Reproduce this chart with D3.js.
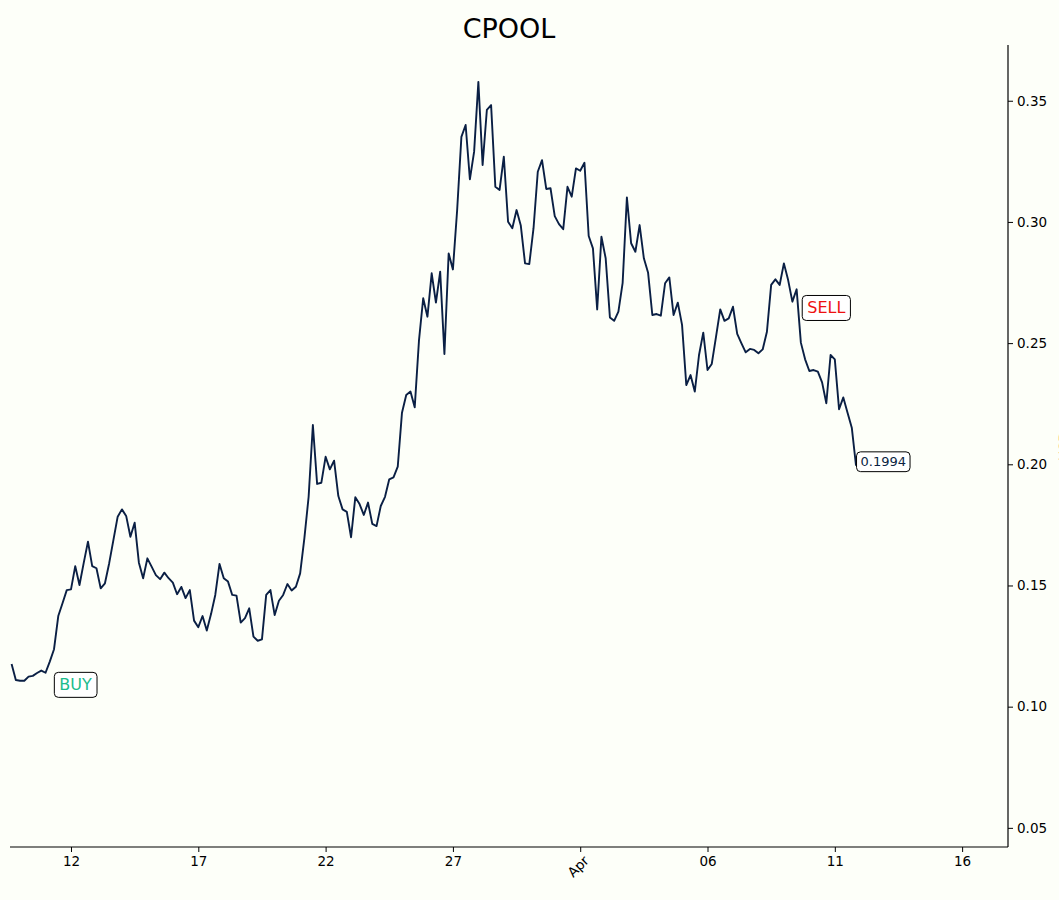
<!DOCTYPE html>
<html>
<head>
<meta charset="utf-8">
<script src="https://cdn.jsdelivr.net/npm/d3@7"></script>
<style>
  html, body { margin: 0; padding: 0; background: #fdfff9; }
  svg { display: block; font-family: "DejaVu Sans", sans-serif; }
</style>
</head>
<body>
<div id="chart"></div>
<script>
// ---- data ----
const title = "CPOOL";
const yLabel = "USD";
const startTime = "2024-03-09T16:00:00Z"; // first sample, 4-hour candles
const stepHours = 4;
const prices = [
  0.1176, 0.1110, 0.1107, 0.1107, 0.1124, 0.1127, 0.1139, 0.1149, 0.1140, 0.1186,
  0.1237, 0.1374, 0.1427, 0.1481, 0.1484, 0.1580, 0.1502, 0.1593, 0.1681, 0.1580,
  0.1571, 0.1488, 0.1509, 0.1592, 0.1688, 0.1784, 0.1814, 0.1787, 0.1701, 0.1759,
  0.1594, 0.1530, 0.1612, 0.1578, 0.1543, 0.1526, 0.1553, 0.1530, 0.1512, 0.1464,
  0.1494, 0.1448, 0.1481, 0.1355, 0.1328, 0.1374, 0.1314, 0.1382, 0.1461, 0.1589,
  0.1530, 0.1516, 0.1461, 0.1458, 0.1347, 0.1365, 0.1406, 0.1289, 0.1272, 0.1278,
  0.1461, 0.1481, 0.1378, 0.1437, 0.1461, 0.1506, 0.1479, 0.1495, 0.1550, 0.1695,
  0.1866, 0.2162, 0.1919, 0.1924, 0.2031, 0.1979, 0.2015, 0.1869, 0.1814, 0.1804,
  0.1699, 0.1864, 0.1836, 0.1791, 0.1842, 0.1754, 0.1745, 0.1828, 0.1866, 0.1938,
  0.1946, 0.1990, 0.2213, 0.2286, 0.2300, 0.2235, 0.2510, 0.2685, 0.2609, 0.2788,
  0.2667, 0.2795, 0.2455, 0.2870, 0.2804, 0.3049, 0.3351, 0.3400, 0.3176, 0.3290,
  0.3578, 0.3235, 0.3462, 0.3482, 0.3145, 0.3132, 0.3269, 0.3001, 0.2974, 0.3049,
  0.2985, 0.2829, 0.2826, 0.2974, 0.3207, 0.3255, 0.3136, 0.3139, 0.3024, 0.2991,
  0.2970, 0.3145, 0.3104, 0.3221, 0.3211, 0.3244, 0.2942, 0.2891, 0.2639, 0.2939,
  0.2850, 0.2606, 0.2592, 0.2630, 0.2749, 0.3101, 0.2912, 0.2877, 0.2987, 0.2850,
  0.2790, 0.2616, 0.2620, 0.2613, 0.2747, 0.2771, 0.2616, 0.2667, 0.2575, 0.2327,
  0.2368, 0.2300, 0.2451, 0.2543, 0.2389, 0.2414, 0.2526, 0.2639, 0.2592, 0.2602,
  0.2650, 0.2538, 0.2499, 0.2462, 0.2476, 0.2472, 0.2458, 0.2474, 0.2547, 0.2740,
  0.2763, 0.2740, 0.2829, 0.2760, 0.2671, 0.2722, 0.2502, 0.2433, 0.2385, 0.2389,
  0.2382, 0.2338, 0.2252, 0.2451, 0.2433, 0.2227, 0.2276, 0.2213, 0.2151, 0.1994
];
const xTickDates = ["2024-03-12", "2024-03-17", "2024-03-22", "2024-03-27", "2024-04-01", "2024-04-06", "2024-04-11", "2024-04-16"];
const xTickLabels = ["12", "17", "22", "27", "Apr", "06", "11", "16"];
const yTicks = [0.05, 0.10, 0.15, 0.20, 0.25, 0.30, 0.35];
const buySignal = { date: "2024-03-11T13:00:00Z", price: 0.1090, label: "BUY" };
const sellSignal = { date: "2024-04-09T22:00:00Z", price: 0.2645, label: "SELL" };

// ---- layout ----
const W = 1059, H = 900;
const plot = { left: 10, right: 1008, top: 45, bottom: 847 };
const xDomain = [new Date("2024-03-09T14:30:00Z"), new Date("2024-04-17T19:15:00Z")];
const yDomain = [0.0421, 0.373];

const t0 = new Date(startTime).getTime();
const series = prices.map((p, i) => ({ date: new Date(t0 + i * stepHours * 3600e3), price: p }));

const x = d3.scaleUtc().domain(xDomain).range([plot.left, plot.right]);
const y = d3.scaleLinear().domain(yDomain).range([plot.bottom, plot.top]);

const svg = d3.select("#chart").append("svg").attr("width", W).attr("height", H);
svg.append("rect").attr("width", W).attr("height", H).attr("fill", "#fdfff9");

// title
svg.append("text").attr("x", (plot.left + plot.right) / 2).attr("y", 38)
  .attr("text-anchor", "middle").attr("font-size", 27).attr("fill", "#000").text(title);

// x axis
const xAxis = d3.axisBottom(x)
  .tickValues(xTickDates.map(d => new Date(d + "T00:00:00Z")))
  .tickFormat((d, i) => xTickLabels[i])
  .tickSizeOuter(0).tickSize(5).tickPadding(4);
const gx = svg.append("g").attr("transform", `translate(0,${plot.bottom})`).call(xAxis);
gx.select(".domain").remove();
gx.selectAll(".tick line").attr("stroke", "#000");
gx.selectAll(".tick text").attr("font-size", 13.5).attr("fill", "#000").attr("font-family", "DejaVu Sans");
gx.selectAll(".tick text").filter((d, i) => xTickLabels[i] === "Apr")
  .attr("text-anchor", "middle").attr("dy", null).attr("y", null)
  .attr("transform", "translate(-2,20) rotate(-45)")
  .attr("dominant-baseline", "middle");

// y axis (right)
const yAxis = d3.axisRight(y).tickValues(yTicks).tickFormat(d3.format(".2f"))
  .tickSizeOuter(0).tickSize(5).tickPadding(4);
const gy = svg.append("g").attr("transform", `translate(${plot.right},0)`).call(yAxis);
gy.select(".domain").remove();
gy.selectAll(".tick line").attr("stroke", "#000");
gy.selectAll(".tick text").attr("font-size", 13.5).attr("fill", "#000").attr("font-family", "DejaVu Sans");

// spines (bottom and right only)
svg.append("line").attr("x1", plot.left).attr("x2", plot.right)
  .attr("y1", plot.bottom).attr("y2", plot.bottom).attr("stroke", "#000").attr("stroke-width", 1.2);
svg.append("line").attr("x1", plot.right).attr("x2", plot.right)
  .attr("y1", plot.top).attr("y2", plot.bottom).attr("stroke", "#000").attr("stroke-width", 1.2);

svg.append("text").attr("transform", `translate(1069,${(plot.top + plot.bottom) / 2}) rotate(-90)`)
  .attr("text-anchor", "middle").attr("font-size", 14).attr("fill", "#000").text(yLabel);

// line
const line = d3.line().x(d => x(d.date)).y(d => y(d.price));
svg.append("path").datum(series).attr("d", line)
  .attr("fill", "none").attr("stroke", "#0a1f44").attr("stroke-width", 1.9)
  .attr("stroke-linejoin", "round");

// labelled boxes
function boxLabel(px, py, text, color, size, pad) {
  const g = svg.append("g");
  const t = g.append("text").attr("x", px).attr("y", py)
    .attr("dominant-baseline", "central").attr("font-size", size)
    .attr("fill", color).text(text);
  const bb = t.node().getBBox();
  g.insert("rect", "text")
    .attr("x", bb.x - pad).attr("y", bb.y - pad * 0.6)
    .attr("width", bb.width + 2 * pad).attr("height", bb.height + 1.2 * pad)
    .attr("rx", 4).attr("ry", 4)
    .attr("fill", "#ffffff").attr("stroke", "#000").attr("stroke-width", 1);
}
boxLabel(x(new Date(buySignal.date)), y(buySignal.price), buySignal.label, "#1abc8c", 16, 5);
boxLabel(x(new Date(sellSignal.date)), y(sellSignal.price), sellSignal.label, "#ee1111", 16, 5);
const last = series[series.length - 1];
boxLabel(x(last.date) + 4.5, y(last.price) - 4, last.price.toFixed(4), "#0a1f44", 13, 4);
</script>
</body>
</html>
